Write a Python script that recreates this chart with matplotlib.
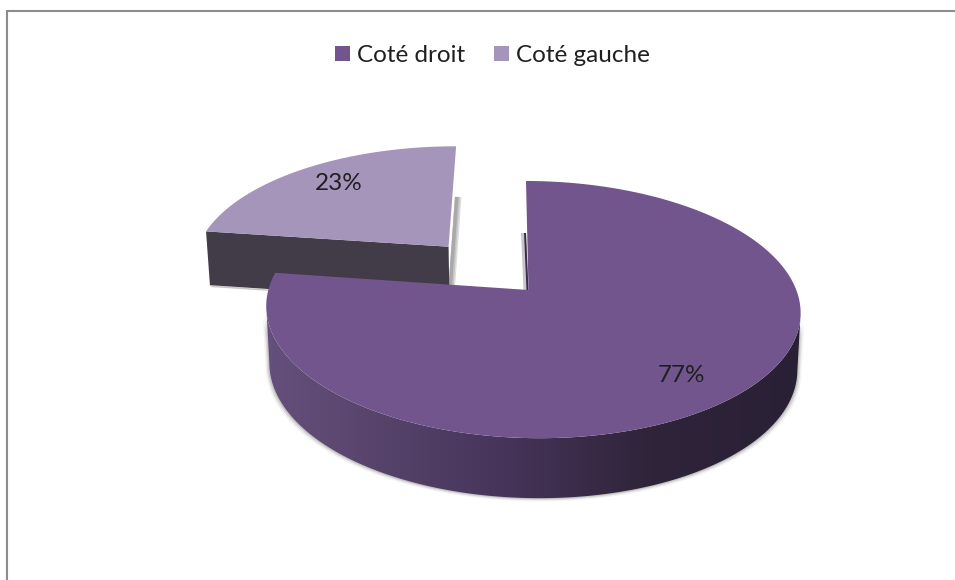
import numpy as np
import matplotlib
matplotlib.use("Agg")
import matplotlib.pyplot as plt
from matplotlib.colors import LinearSegmentedColormap
from matplotlib.patches import Polygon

plt.rcParams['font.family'] = ['Lato', 'DejaVu Sans']

# Share of each side, in percent
sides = ["Coté droit", "Coté gauche"]
shares = [77, 23]
explode = [0.0, 0.48]
top_colors = ["#71558c", "#a695bb"]
TEXT = "#1f1f1f"

# Perspective camera for the tilted disc, in figure pixels
APEX_X, APEX_Y = 528.5, 290.0
SCALE_X, SCALE_Y = 264.0, 125.6
PERSP_V, PERSP_U = 0.152, 0.0168
SKEW_X, TILT_Y = -2.5, 2.0


def project(u, v, drop=False):
    den = 1 + PERSP_V * v - PERSP_U * u
    x = APEX_X + SCALE_X * u / den + SKEW_X * v
    y = APEX_Y - SCALE_Y * v / den + TILT_Y * u
    if drop:
        x = APEX_X + (x - APEX_X) * 0.988
        y = y + 55.5 - 3.5 * v
    return x, y


def slice_outline(start, stop, offset, radius=1.0, n=360):
    """Arc of a slice; angles run clockwise from 12 o'clock."""
    t = np.radians(np.linspace(start, stop, n))
    return radius * np.sin(t) + offset[0], radius * np.cos(t) + offset[1]


fig = plt.figure(figsize=(9.55, 5.80), dpi=100, facecolor="white")
ax = fig.add_axes([0, 0, 1, 1])
ax.set_axis_off()

# Outer frame of the chart area
ax.plot([957, 7, 7], [11, 11, 582], color="#8c8c8c", lw=1.5, zorder=1,
        solid_joinstyle="miter")

# Slice boundaries from the data
big_sweep = shares[0] / sum(shares) * 360
small_mid = np.radians(big_sweep + (360 - big_sweep) / 2)
small_off = (explode[1] * np.sin(small_mid), explode[1] * np.cos(small_mid))

# Small slice: cut face, soft shadow, then top surface
su, sv = slice_outline(big_sweep, 360, small_off, radius=1.025)
ax_u, ax_v = small_off
cu, cv = su[0], sv[0]              # outer corner of the cut face
corner = project(cu, cv)
apex_s = project(ax_u, ax_v)
corner_b = project(cu, cv, True)
apex_b = project(ax_u, ax_v, True)
back = project(su[-1], sv[-1], True)

for reach, tone in ((4.5, "#dcdcdc"), (3.0, "#c4c4c4"), (1.5, "#a9a9a9")):
    ax.add_patch(Polygon([(back[0] - 2, back[1]), (back[0] + reach, back[1]),
                          (apex_b[0] + reach, apex_b[1]), (apex_b[0] - 2, apex_b[1])],
                         closed=True, fc=tone, ec="none", zorder=2))
ax.add_patch(Polygon([corner_b, (apex_b[0] + 2, apex_b[1] + 2),
                      (corner_b[0] + 2, corner_b[1] + 2)],
                     closed=True, fc="#c8c8c8", ec="none", zorder=2))
ax.add_patch(Polygon([corner, apex_s, apex_b, corner_b], closed=True,
                     fc="#423c48", ec="none", zorder=3))
px, py = project(su, sv)
small_top = np.r_[np.c_[px, py], [apex_s]]
small_patch = Polygon(small_top, closed=True, fc=top_colors[1], ec="none", zorder=4)
ax.add_patch(small_patch)

# Large slice: side wall, from the right silhouette point round the front to the left one
bu, bv = slice_outline(0, big_sweep, (0, 0))
tx, ty = project(bu, bv)
dx, dy = project(bu, bv, True)
dy = dy + 1.0
i_right, i_left = int(np.argmax(tx)), int(np.argmin(tx))
ribbon = np.r_[np.c_[tx, ty][i_right:i_left + 1],
               np.c_[dx, dy][i_right:i_left + 1][::-1]]

for grow, alpha in ((4.0, 0.08), (2.5, 0.14), (1.2, 0.20)):
    ax.add_patch(Polygon(np.c_[APEX_X + (ribbon[:, 0] - APEX_X) * (1 + grow / 270),
                               ribbon[:, 1] + grow * 0.8],
                         closed=True, fc="#5a5a5a", ec="none", alpha=alpha, zorder=5))

ramp = LinearSegmentedColormap.from_list(
    "wall", [(0.00, "#64507c"), (0.14, "#5c4870"), (0.45, "#46345a"),
             (0.72, "#2f2439"), (1.00, "#2a2036")])
shade = ax.imshow(np.linspace(0, 1, 256)[None, :], cmap=ramp, aspect="auto",
                  extent=(262, 802, 510, 280), zorder=6, interpolation="bilinear")
wall_clip = Polygon(ribbon, closed=True, fc="none", ec="none",
                    transform=ax.transData)
ax.add_patch(wall_clip)
shade.set_clip_path(wall_clip)

# Sliver of the cut face seen beside the vertical edge of the large slice
edge_top = project(0, 1, True)
apex_top = project(0, 0)
ax.add_patch(Polygon([(edge_top[0] - 5, edge_top[1]), (edge_top[0], edge_top[1]),
                      apex_top, (apex_top[0] - 5, apex_top[1])],
                     closed=True, fc="#c6c6c6", ec="none", zorder=5))
ax.add_patch(Polygon([(edge_top[0] - 2, edge_top[1]), (edge_top[0], edge_top[1]),
                      apex_top, (apex_top[0] - 2, apex_top[1])],
                     closed=True, fc="#3a2c4a", ec="none", zorder=6))

big_top = np.r_[np.c_[tx, ty], [apex_top]]
big_patch = Polygon(big_top, closed=True, fc=top_colors[0], ec="none", zorder=7)
ax.add_patch(big_patch)

# Value labels
ax.text(681.5, 375, f"{shares[0]}%", ha="center", va="center", fontsize=17.5,
        color=TEXT, zorder=8)
ax.text(338.5, 184, f"{shares[1]}%", ha="center", va="center", fontsize=17.5,
        color=TEXT, zorder=8)

ax.set_xlim(0, 955)
ax.set_ylim(580, 0)

# Legend across the top
leg = ax.legend([big_patch, small_patch], sides, ncol=2, frameon=False,
                loc="center", bbox_to_anchor=(492.5 / 955, 1 - 55.5 / 580),
                fontsize=17.5, handlelength=0.62, handleheight=0.62,
                handletextpad=0.28, columnspacing=1.2, labelcolor=TEXT,
                borderpad=0, borderaxespad=0)

fig.savefig("out.png", dpi=100, facecolor="white")
